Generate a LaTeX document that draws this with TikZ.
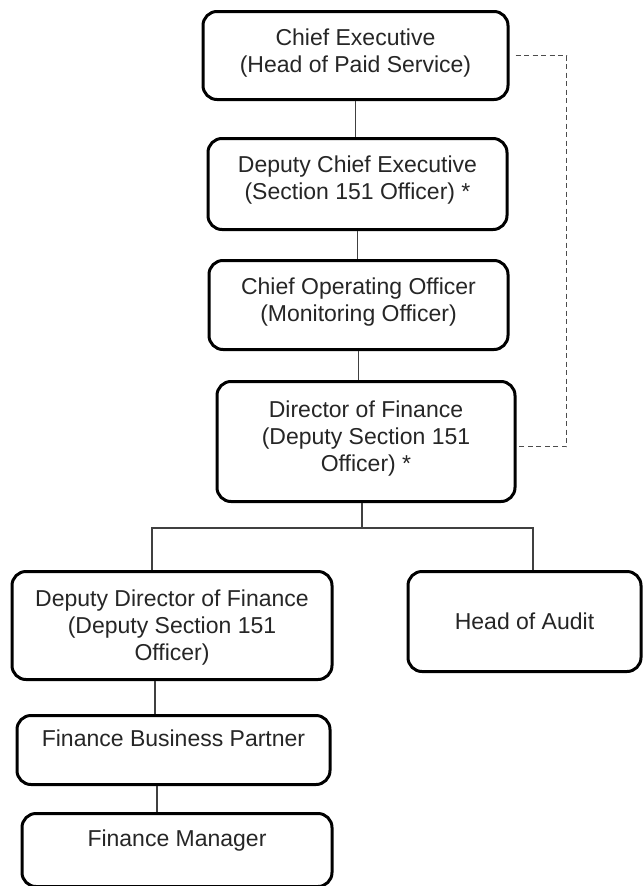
\documentclass[tikz,border=0pt]{standalone}
\usepackage{fontspec}
\setmainfont{Liberation Sans}
\usetikzlibrary{positioning}

\begin{document}
\begin{tikzpicture}[x=1pt,y=-1pt,node distance=30pt]
		\tikzstyle{post}=[rectangle, rounded corners=14pt, draw=black, line width=3pt, fill=white, align=center, text=black!85, font=\fontsize{23}{27}\selectfont, text height=17pt, anchor=north]
		\tikzstyle{two lines}=[text height=44pt]
		\tikzstyle{three lines}=[text height=71pt]
		\tikzstyle{link}=[draw=black!75, line width=1.2pt]
		\tikzstyle{dashlink}=[draw=black!70, line width=1.7pt, dash pattern=on 5pt off 3.5pt]

		\useasboundingbox (0,0) rectangle (643,886);

		\node [post, two lines, minimum width=305pt, inner ysep=17pt, text depth=10pt] (ceo) at (355.5,10) {Chief Executive\\(Head of Paid Service)};
		\node [post, two lines, minimum width=299pt, inner ysep=17pt, text depth=13pt] (dce) [below=36pt of ceo, xshift=2pt] {Deputy Chief Executive\\(Section 151 Officer) *};
		\node [post, two lines, minimum width=299pt, inner ysep=17pt, text depth=11pt] (coo) [below=28pt of dce, xshift=1pt] {Chief Operating Officer\\(Monitoring Officer)};
		\node [post, three lines, minimum width=298pt, inner ysep=19pt, text depth=11pt] (dof) [below=29pt of coo, xshift=7.5pt] {Director of Finance\\(Deputy Section 151\\Officer) *};

		\node [post, three lines, minimum width=320pt, inner ysep=18pt, text depth=1pt] (ddf) at (172,570) {Deputy Director of Finance\\(Deputy Section 151\\Officer)};
		\node [post, minimum width=233pt, inner ysep=41pt, text depth=1pt] (hoa) at (524.5,570) {Head of Audit};
		\node [post, minimum width=313pt, inner ysep=14pt, text depth=24pt] (fbp) [below=33pt of ddf, xshift=1.5pt] {Finance Business Partner};
		\node [post, minimum width=310pt, inner ysep=16pt, text depth=24pt] (fm) [below=26pt of fbp, xshift=3.5pt] {Finance Manager};

		\coordinate (bus) at (362,528);
		\coordinate (busL) at (152,528);
		\coordinate (busR) at (533,528);

		\draw [link] (ceo.south) -- (ceo.south |- dce.north);
		\draw [link] (dce.south) -- (dce.south |- coo.north);
		\draw [link] (coo.south) -- (coo.south |- dof.north);
		\draw [link] ([xshift=-4pt]dof.south) -- (bus);
		\draw [link] (ddf.north -| busL) |- (busR) -- (hoa.north -| busR);
		\draw [link] ([xshift=-17pt]ddf.south) -- ([xshift=-17pt]ddf.south |- fbp.north);
		\draw [link] ([xshift=-16.5pt]fbp.south) -- ([xshift=-16.5pt]fbp.south |- fm.north);

		% dotted line to the Director of Finance
		\draw [dashlink] ([xshift=6pt]ceo.east) -- ++(51,0) |- ([yshift=-5pt]dof.east);
	\end{tikzpicture}
\end{document}
